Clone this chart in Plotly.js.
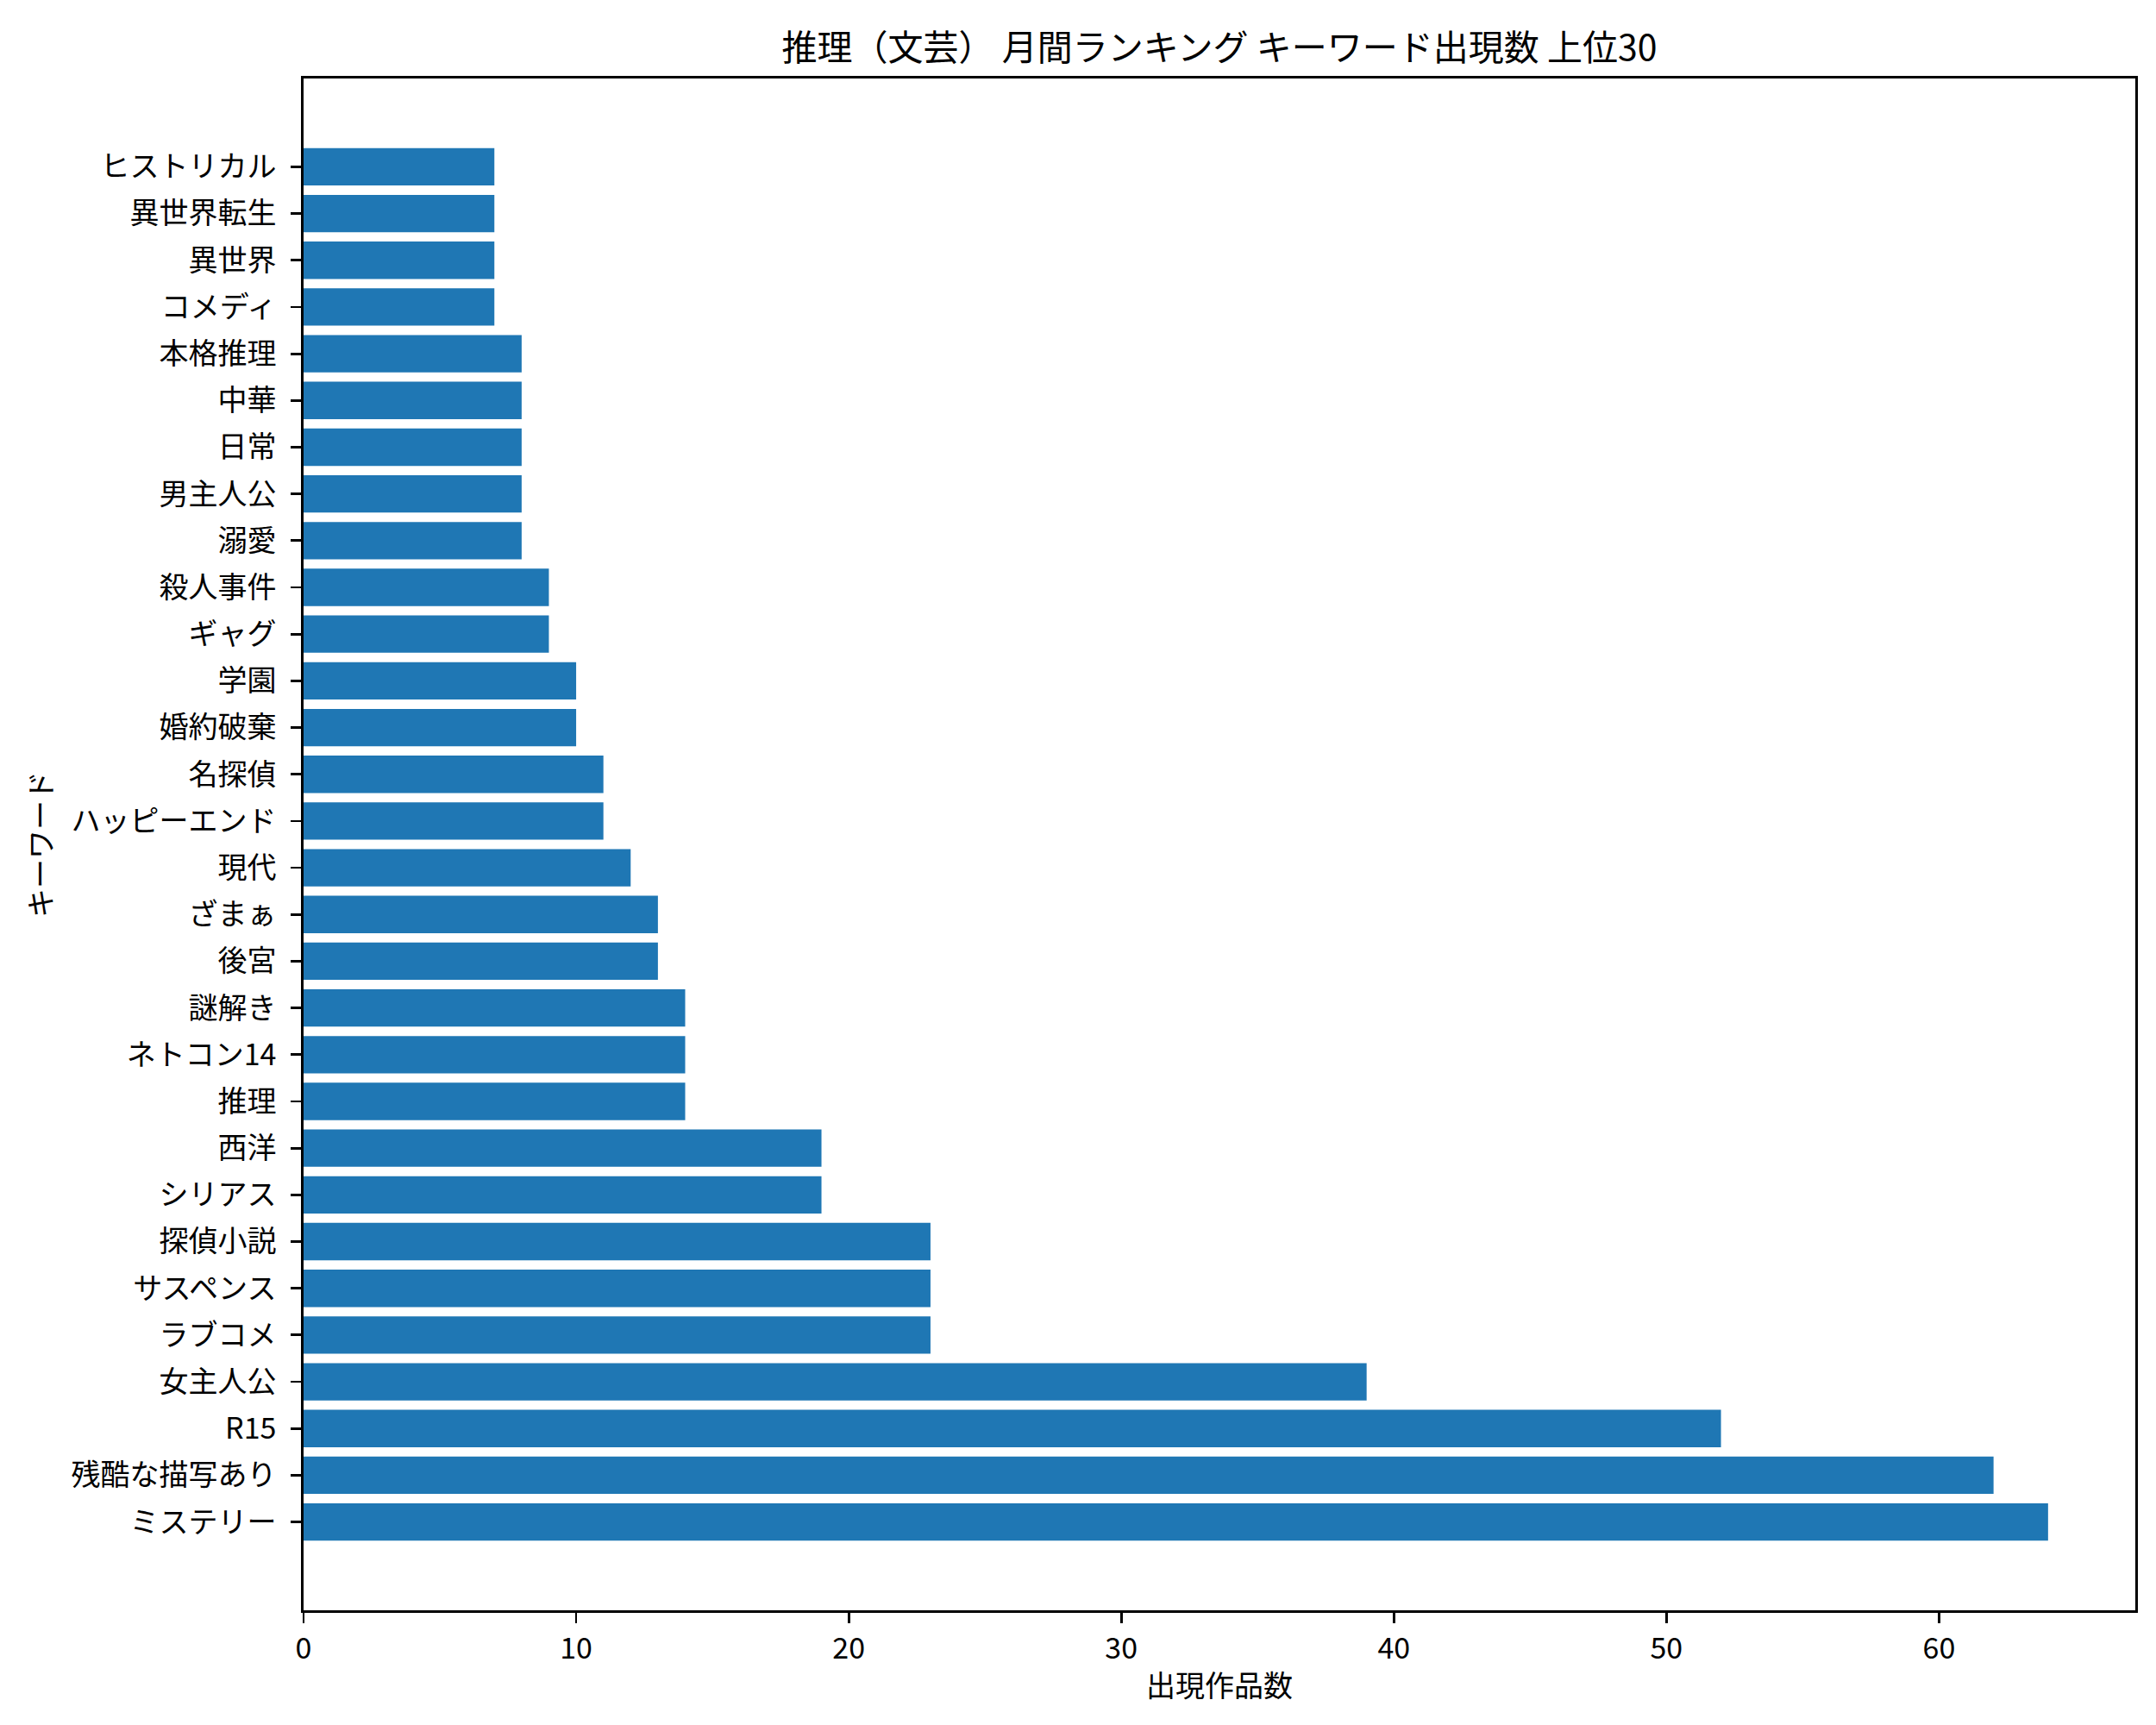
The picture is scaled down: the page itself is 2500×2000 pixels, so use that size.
<!DOCTYPE html>
<html>
<head>
<meta charset="utf-8">
<script src="https://cdn.plot.ly/plotly-3.0.1.min.js"></script>
<style>
  body { margin: 0; background: #fff; }
  #chart { width: 2500px; height: 2000px; }
</style>
</head>
<body>
<div id="chart"></div>
<script>
// keywords, bottom bar first (matplotlib barh order)
const keywords = [
  'ミステリー', '残酷な描写あり', 'R15', '女主人公', 'ラブコメ',
  'サスペンス', '探偵小説', 'シリアス', '西洋', '推理',
  'ネトコン14', '謎解き', '後宮', 'ざまぁ', '現代',
  'ハッピーエンド', '名探偵', '婚約破棄', '学園', 'ギャグ',
  '殺人事件', '溺愛', '男主人公', '日常', '中華',
  '本格推理', 'コメディ', '異世界', '異世界転生', 'ヒストリカル'
];

const counts = [
  64, 62, 52, 39, 23,
  23, 23, 19, 19, 14,
  14, 14, 13, 13, 12,
  11, 11, 10, 10, 9,
  9, 8, 8, 8, 8,
  8, 7, 7, 7, 7
];

const xTicks = [0, 10, 20, 30, 40, 50, 60];

const FONT = '"Noto Sans CJK JP", "Noto Sans", sans-serif';

const trace = {
  type: 'bar',
  orientation: 'h',
  x: counts,
  y: keywords,
  marker: { color: '#1f77b4', line: { width: 0 } },
  hoverinfo: 'x+y',
};

const axisCommon = {
  showline: true,
  mirror: true,
  linecolor: '#000',
  linewidth: 2.8,
  ticks: 'outside',
  ticklen: 12,
  tickwidth: 2.8,
  tickcolor: '#000',
  showgrid: false,
  zeroline: false,
  tickfont: { family: FONT, size: 34, color: '#000' },
};

const layout = {
  width: 2500,
  height: 2000,
  paper_bgcolor: '#fff',
  plot_bgcolor: '#fff',
  font: { family: FONT, color: '#000', size: 34 },
  margin: { l: 352, r: 24, t: 91, b: 133 },
  showlegend: false,
  bargap: 0.2,
  title: {
    text: '推理（文芸） 月間ランキング キーワード出現数 上位30',
    font: { family: FONT, size: 41, color: '#000' },
    xref: 'paper', x: 0.5, xanchor: 'center',
    yref: 'container', y: 1 - 56 / 2000, yanchor: 'middle',
  },
  xaxis: Object.assign({}, axisCommon, {
    range: [0, 67.2],
    tickmode: 'array',
    tickvals: xTicks,
    ticktext: xTicks.map(String),
    title: { text: '出現作品数', font: { family: FONT, size: 34, color: '#000' }, standoff: 12 },
  }),
  yaxis: Object.assign({}, axisCommon, {
    type: 'category',
    categoryorder: 'array',
    categoryarray: keywords,
    range: [-1.89, 30.89],
    ticklabelstandoff: 10,
    title: { text: 'キーワード', font: { family: FONT, size: 34, color: '#000' }, standoff: 12 },
  }),
};

Plotly.newPlot('chart', [trace], layout, { displayModeBar: false, staticPlot: true });
</script>
</body>
</html>
